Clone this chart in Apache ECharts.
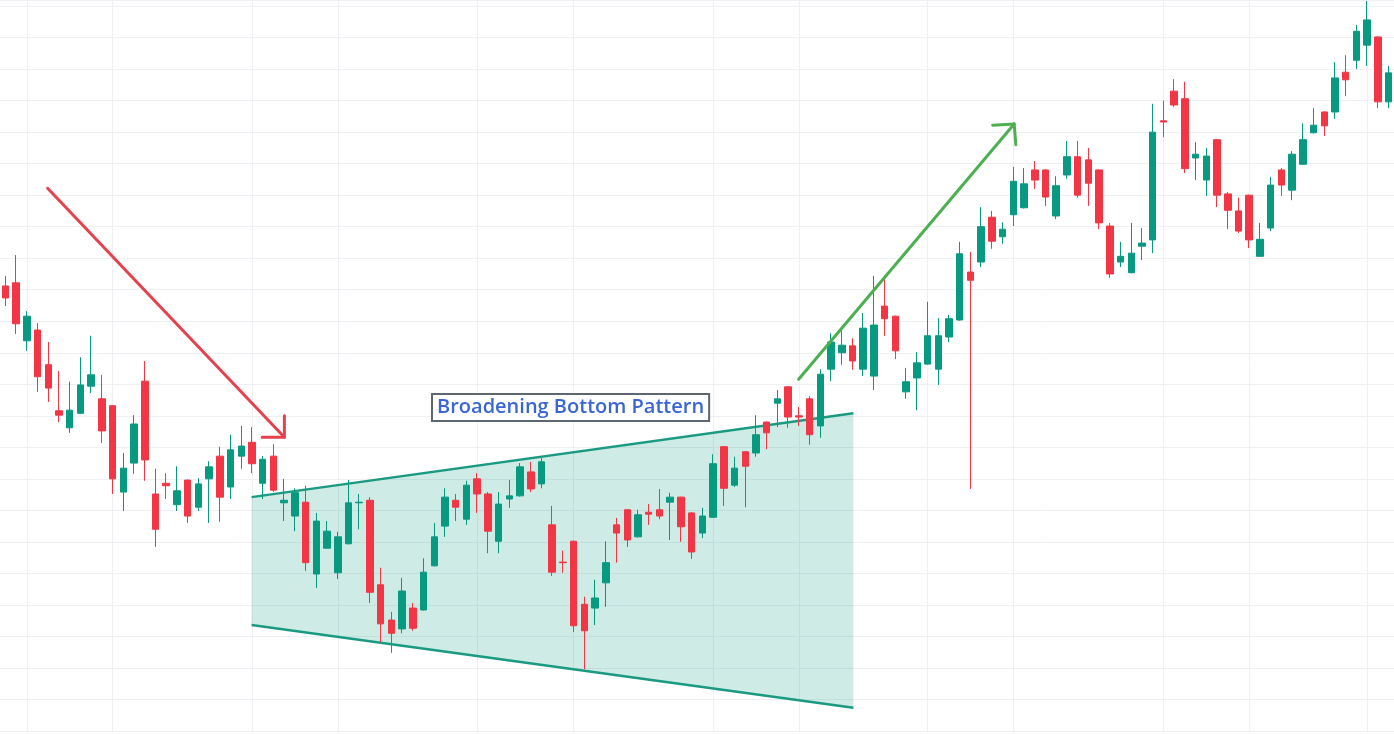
<!DOCTYPE html>
<html lang="en">
<head>
<meta charset="UTF-8">
<title>Broadening Bottom Pattern</title>
<style>
    html, body { margin: 0; padding: 0; background: #ffffff; }
    #main { width: 1394px; height: 734px; }
</style>
<script src="https://cdn.jsdelivr.net/npm/echarts@6/dist/echarts.min.js"></script>
</head>
<body>
<div id="main"></div>
<script>
    // one row per session: [open, close, low, high]
    var candles = [
        [170.6, 168.7, 167.4, 172.2], [171.1, 164.6, 163.0, 175.5], [161.9, 165.8, 160.3, 166.6], [163.6, 156.2, 153.8, 164.7],
        [158.1, 154.4, 152.2, 161.7], [150.8, 150.1, 149.0, 157.1], [148.1, 150.9, 147.3, 155.4], [150.4, 154.9, 150.3, 159.3],
        [154.7, 156.5, 153.6, 162.7], [152.7, 147.6, 145.7, 156.5], [151.6, 140.0, 137.6, 151.7], [137.9, 141.7, 134.9, 144.1],
        [142.5, 148.7, 140.8, 150.1], [155.5, 143.0, 139.7, 158.7], [137.6, 132.0, 129.2, 141.6], [139.3, 138.9, 136.8, 140.9],
        [135.9, 138.1, 134.9, 142.0], [139.8, 134.1, 133.0, 139.9], [135.5, 139.2, 134.9, 140.1], [140.0, 141.9, 133.0, 142.8],
        [143.6, 137.1, 133.2, 145.1], [138.7, 144.6, 136.8, 147.0], [143.6, 145.2, 141.6, 148.4], [145.8, 142.4, 140.9, 148.2],
        [139.3, 143.1, 136.8, 143.6], [143.6, 138.2, 137.9, 145.5], [136.2, 136.6, 133.3, 140.0], [134.1, 137.8, 131.7, 138.5],
        [136.3, 126.7, 125.4, 138.9], [124.9, 133.3, 122.7, 134.6], [129.0, 131.7, 128.9, 133.3], [125.1, 130.8, 124.1, 131.6],
        [129.7, 136.2, 129.6, 139.8], [136.2, 136.3, 132.0, 137.6], [136.6, 122.0, 120.3, 137.1], [123.2, 117.0, 114.1, 125.9],
        [117.6, 115.5, 112.4, 118.9], [116.2, 122.2, 115.5, 124.3], [119.5, 116.3, 115.9, 120.3], [119.2, 125.2, 119.1, 127.4],
        [126.2, 130.8, 126.1, 133.0], [132.5, 137.1, 130.8, 138.5], [136.6, 135.5, 133.3, 137.6], [133.6, 139.0, 132.7, 139.7],
        [140.0, 137.6, 134.6, 140.9], [137.6, 131.7, 128.2, 137.9], [130.1, 136.0, 128.2, 137.9], [136.8, 137.3, 135.4, 139.8],
        [137.3, 141.9, 137.2, 142.5], [141.1, 138.4, 137.9, 142.7], [139.2, 142.7, 138.5, 143.3], [132.7, 125.2, 124.6, 135.7],
        [126.8, 126.7, 125.1, 128.6], [130.1, 116.7, 115.7, 130.2], [120.1, 115.9, 109.8, 121.3], [119.5, 121.1, 116.8, 124.0],
        [123.5, 126.7, 119.7, 130.1], [132.7, 131.4, 126.7, 133.8], [135.1, 130.3, 129.2, 135.2], [130.8, 134.3, 130.7, 135.1],
        [134.7, 134.4, 132.7, 136.0], [135.1, 134.1, 133.6, 138.4], [136.3, 137.1, 130.3, 137.8], [137.1, 132.4, 130.0, 137.2],
        [134.6, 128.4, 127.3, 134.7], [131.4, 134.1, 130.6, 135.4], [133.9, 142.4, 133.8, 143.9], [145.1, 138.5, 135.7, 145.2],
        [139.0, 141.7, 138.7, 143.5], [144.3, 142.0, 135.5, 144.4], [144.1, 147.0, 143.5, 150.1], [149.0, 147.3, 144.7, 149.1],
        [152.0, 152.7, 148.2, 154.1], [154.6, 149.8, 148.1, 154.7], [150.0, 149.8, 148.4, 151.4], [152.7, 147.0, 145.4, 153.1],
        [148.4, 156.6, 146.5, 157.4], [157.4, 161.7, 155.5, 163.1], [160.0, 161.2, 158.1, 163.8], [161.1, 158.7, 157.3, 162.3],
        [157.4, 163.9, 156.3, 166.3], [156.3, 164.4, 154.1, 172.2], [167.4, 165.4, 162.7, 172.2], [165.8, 160.3, 159.0, 165.9],
        [153.8, 155.4, 152.7, 157.6], [156.0, 158.4, 150.9, 160.1], [158.2, 162.7, 158.1, 168.1], [157.4, 162.7, 154.9, 165.5],
        [162.5, 165.4, 161.7, 166.0], [165.2, 175.7, 165.1, 177.6], [172.8, 171.5, 138.4, 176.0], [174.4, 180.0, 173.6, 183.1],
        [181.5, 177.7, 176.5, 182.5], [178.4, 179.6, 177.3, 180.7], [181.9, 187.2, 180.1, 189.5], [183.0, 186.8, 182.9, 189.3],
        [189.0, 187.4, 186.0, 190.4], [189.0, 184.7, 183.3, 189.1], [181.7, 186.5, 181.2, 188.0], [188.2, 191.1, 187.6, 193.6],
        [191.1, 185.0, 184.6, 193.6], [190.6, 186.9, 183.3, 192.5], [189.0, 180.6, 179.6, 189.1], [180.1, 172.5, 171.9, 180.6],
        [174.4, 175.3, 173.6, 177.6], [172.7, 175.8, 172.6, 180.6], [176.9, 177.4, 174.7, 179.8], [177.9, 195.0, 175.8, 199.5],
        [196.8, 196.6, 194.2, 200.0], [201.5, 199.3, 199.0, 203.4], [200.3, 189.2, 188.5, 203.0], [190.9, 191.5, 187.4, 193.4],
        [187.4, 191.2, 184.9, 192.5], [193.8, 185.0, 183.1, 193.9], [185.2, 182.6, 179.6, 185.5], [182.5, 179.3, 179.0, 184.6],
        [185.0, 177.9, 176.6, 185.1], [175.3, 178.0, 175.2, 180.6], [179.8, 186.6, 179.3, 187.9], [189.0, 186.6, 184.9, 189.3],
        [185.8, 191.5, 184.2, 192.0], [189.9, 193.8, 189.8, 196.4], [194.9, 196.1, 194.8, 198.8], [198.2, 196.0, 194.4, 198.3],
        [198.2, 203.6, 197.1, 206.1], [204.5, 203.3, 200.7, 207.2], [206.4, 211.0, 205.0, 212.0], [208.8, 212.8, 205.5, 215.8],
        [210.1, 199.8, 198.8, 210.2], [199.8, 204.4, 198.8, 205.5]
    ];

    // session labels (the axis itself is hidden)
    var days = [];
    for (var i = 0; i < candles.length; i++) {
        days.push('D' + (i + 1));
    }

    // sessions where the vertical grid lines sit
    var vGridDays = [2, 10, 23, 31, 44, 53, 66, 74, 86, 94, 108, 116, 127];

    // drawings, as [session index, price]
    var redArrow = [[3.94, 186.1], [26.02, 146.6]];
    var redArrowHead = [[23.95, 146.6], [26.02, 146.6], [26.02, 150.0]];
    var greenArrow = [[73.98, 155.8], [94.08, 196.3]];
    var greenArrowHead = [[92.07, 196.1], [94.08, 196.3], [94.23, 193.0]];
    var channelTop = [[22.96, 137.1], [79.08, 150.4]];
    var channelBottom = [[22.96, 116.8], [79.08, 103.7]];
    var patternLabel = 'Broadening Bottom Pattern';
    var labelAt = [52.71, 151.3];

    var UP = '#089981';
    var DOWN = '#f23645';
    var GRID = '#eef0f3';

    function drawLine(data, color) {
        return {
            type: 'line',
            xAxisIndex: 1,
            data: data,
            z: 5,
            silent: true,
            showSymbol: false,
            symbol: 'none',
            animation: false,
            lineStyle: { color: color, width: 3, cap: 'round', join: 'round' }
        };
    }

    // channel area, its two edges and the text box
    function renderPattern(params, api) {
        var t0 = api.coord(channelTop[0]), t1 = api.coord(channelTop[1]);
        var b0 = api.coord(channelBottom[0]), b1 = api.coord(channelBottom[1]);
        var c = api.coord(labelAt);
        return {
            type: 'group',
            children: [
                { type: 'polygon', shape: { points: [t0, t1, b1, b0] }, style: { fill: 'rgba(8,153,129,0.2)' } },
                { type: 'line', shape: { x1: t0[0], y1: t0[1], x2: t1[0], y2: t1[1] }, style: { stroke: '#1a9a80', lineWidth: 2.5 } },
                { type: 'line', shape: { x1: b0[0], y1: b0[1], x2: b1[0], y2: b1[1] }, style: { stroke: '#1a9a80', lineWidth: 2.5 } },
                {
                    type: 'text', x: c[0], y: c[1],
                    style: {
                        text: patternLabel,
                        fill: '#3a66d4',
                        font: '600 20px "Open Sans"',
                        align: 'center',
                        verticalAlign: 'middle',
                        backgroundColor: '#ffffff',
                        borderColor: '#5d6770',
                        borderWidth: 2,
                        padding: [3, 4, 2, 4]
                    }
                }
            ]
        };
    }

    var option = {
        animation: false,
        backgroundColor: '#ffffff',
        grid: { left: -2.89, right: -4.51, top: 0, bottom: 3, containLabel: false },
        xAxis: [{
            type: 'category',
            data: days,
            boundaryGap: true,
            show: false
        }, {
            type: 'value',
            min: -0.5,
            max: 129.5,
            show: false
        }],
        yAxis: {
            type: 'value',
            min: 100,
            max: 215.96,
            interval: 5,
            axisLine: { show: false },
            axisTick: { show: false },
            axisLabel: { show: false },
            splitLine: { lineStyle: { color: GRID, width: 1 } }
        },
        series: [{
            type: 'line',
            xAxisIndex: 1,
            data: [],
            z: 0,
            silent: true,
            markLine: {
                z: 0,
                silent: true,
                symbol: ['none', 'none'],
                label: { show: false },
                animation: false,
                lineStyle: { color: GRID, width: 1, type: 'solid' },
                data: vGridDays.map(function (d) { return { xAxis: d }; })
            }
        }, {
            type: 'custom',
            xAxisIndex: 1,
            z: 1,
            silent: true,
            data: [labelAt],
            renderItem: renderPattern
        }, {
            type: 'candlestick',
            data: candles,
            z: 3,
            barWidth: 7,
            itemStyle: {
                color: UP,
                color0: DOWN,
                borderColor: UP,
                borderColor0: DOWN,
                borderWidth: 1
            }
        },
            drawLine(redArrow, '#e8414e'),
            drawLine(redArrowHead, '#e8414e'),
            drawLine(greenArrow, '#4caf50'),
            drawLine(greenArrowHead, '#4caf50')
        ]
    };

    var myChart = echarts.init(document.getElementById('main'));
    myChart.setOption(option);
</script>
</body>
</html>
